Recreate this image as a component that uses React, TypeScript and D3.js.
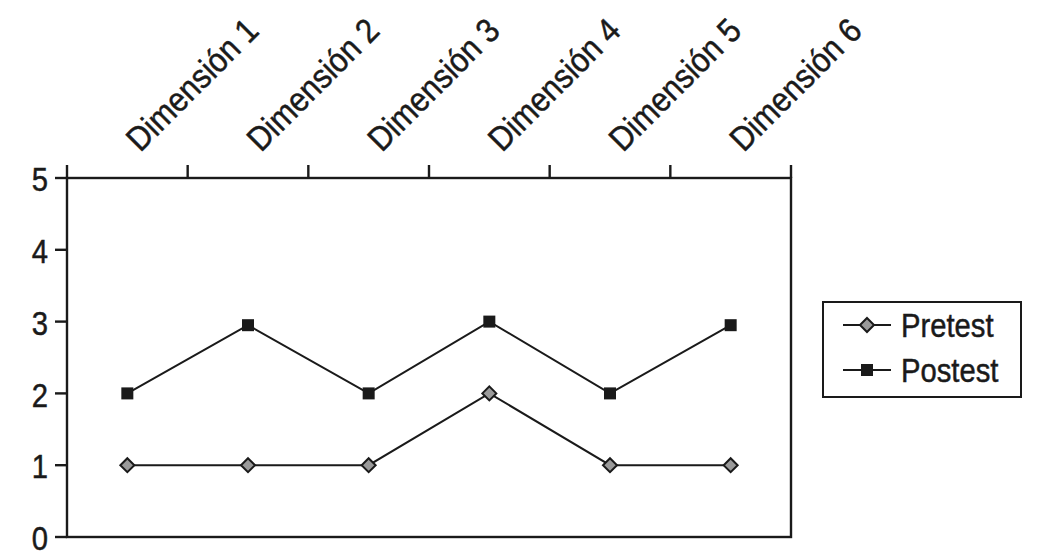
import { useRef, useEffect } from 'react';
import * as d3 from 'd3';

const categories = ['Dimensión 1', 'Dimensión 2', 'Dimensión 3', 'Dimensión 4', 'Dimensión 5', 'Dimensión 6'];
const pretest = [1, 1, 1, 2, 1, 1];
const postest = [2, 2.95, 2, 3, 2, 2.95];
const yTicks = [0, 1, 2, 3, 4, 5];

const W = 1045;
const H = 558;
const FONT = '"Liberation Sans", Arial, sans-serif';
const INK = '#1a1a1a';
const NARROW = 0.86; // squeeze text horizontally, the original uses a condensed face

export default function App() {
  const svgRef = useRef<SVGSVGElement>(null);

  useEffect(() => {
    const svg = d3.select(svgRef.current);
    svg.selectAll('*').remove();

    const left = 67, right = 791, top = 178, bottom = 537;

    const x = d3.scaleBand<string>().domain(categories).range([left, right]);
    const y = d3.scaleLinear().domain([0, 5]).range([bottom, top]);
    const cx = (c: string) => (x(c) as number) + x.bandwidth() / 2;

    // plot frame
    svg.append('rect')
      .attr('x', left).attr('y', top)
      .attr('width', right - left).attr('height', bottom - top)
      .attr('fill', 'none').attr('stroke', INK).attr('stroke-width', 2.4);

    // y axis ticks + labels
    const ya = svg.append('g').attr('font-family', FONT);
    yTicks.forEach((t) => {
      ya.append('line')
        .attr('x1', left - 12).attr('x2', left)
        .attr('y1', y(t)).attr('y2', y(t))
        .attr('stroke', INK).attr('stroke-width', 2.4);
      ya.append('text')
        .attr('transform', 'translate(' + (left - 19) + ',' + (y(t) + 1) + ') scale(' + NARROW + ',1)')
        .attr('dy', '0.36em')
        .attr('text-anchor', 'end')
        .attr('font-size', 34)
        .attr('fill', INK)
        .attr('stroke', INK).attr('stroke-width', 0.5)
        .text(String(t));
    });

    // top category axis ticks (band edges)
    const edges = categories.map((c) => x(c) as number).concat([right]);
    edges.forEach((e) => {
      svg.append('line')
        .attr('x1', e).attr('x2', e)
        .attr('y1', top - 13).attr('y2', top)
        .attr('stroke', INK).attr('stroke-width', 2.4);
    });

    // rotated category labels
    categories.forEach((c) => {
      svg.append('text')
        .attr('transform', 'translate(' + (cx(c) + 13) + ',' + (top - 25) + ') rotate(-45) scale(0.9,1)')
        .attr('font-family', FONT)
        .attr('font-size', 34)
        .attr('fill', INK)
        .attr('stroke', INK).attr('stroke-width', 0.5)
        .text(c);
    });

    const line = d3.line<number>()
      .x((_, i) => cx(categories[i]))
      .y((d) => y(d));

    svg.append('path').datum(pretest)
      .attr('d', line).attr('fill', 'none')
      .attr('stroke', INK).attr('stroke-width', 2);
    svg.append('path').datum(postest)
      .attr('d', line).attr('fill', 'none')
      .attr('stroke', INK).attr('stroke-width', 2);

    const diamond = (g: any, px: number, py: number) => {
      g.append('path')
        .attr('d', 'M' + px + ',' + (py - 7) + 'L' + (px + 7) + ',' + py + 'L' + px + ',' + (py + 7) + 'L' + (px - 7) + ',' + py + 'Z')
        .attr('fill', '#9a9a9a').attr('stroke', INK).attr('stroke-width', 2);
    };
    const square = (g: any, px: number, py: number) => {
      g.append('rect')
        .attr('x', px - 6).attr('y', py - 6)
        .attr('width', 12).attr('height', 12)
        .attr('fill', INK);
    };

    pretest.forEach((v, i) => diamond(svg, cx(categories[i]), y(v)));
    postest.forEach((v, i) => square(svg, cx(categories[i]), y(v)));

    // legend
    const lg = svg.append('g');
    lg.append('rect')
      .attr('x', 823).attr('y', 302)
      .attr('width', 198).attr('height', 95)
      .attr('fill', 'none').attr('stroke', INK).attr('stroke-width', 2);
    const items = [
      { name: 'Pretest', cy: 325, mark: diamond },
      { name: 'Postest', cy: 370, mark: square },
    ];
    items.forEach((it) => {
      lg.append('line')
        .attr('x1', 843).attr('x2', 891)
        .attr('y1', it.cy).attr('y2', it.cy)
        .attr('stroke', INK).attr('stroke-width', 2);
      it.mark(lg, 867, it.cy);
      lg.append('text')
        .attr('transform', 'translate(901,' + it.cy + ') scale(' + NARROW + ',1)')
        .attr('dy', '0.36em')
        .attr('font-family', FONT)
        .attr('font-size', 34)
        .attr('fill', INK)
        .attr('stroke', INK).attr('stroke-width', 0.5)
        .text(it.name);
    });
  }, []);

  return (
    <svg
      ref={svgRef}
      width={W}
      height={H}
      style={{ position: 'absolute', left: 0, top: 0, background: '#fff' }}
    />
  );
}
